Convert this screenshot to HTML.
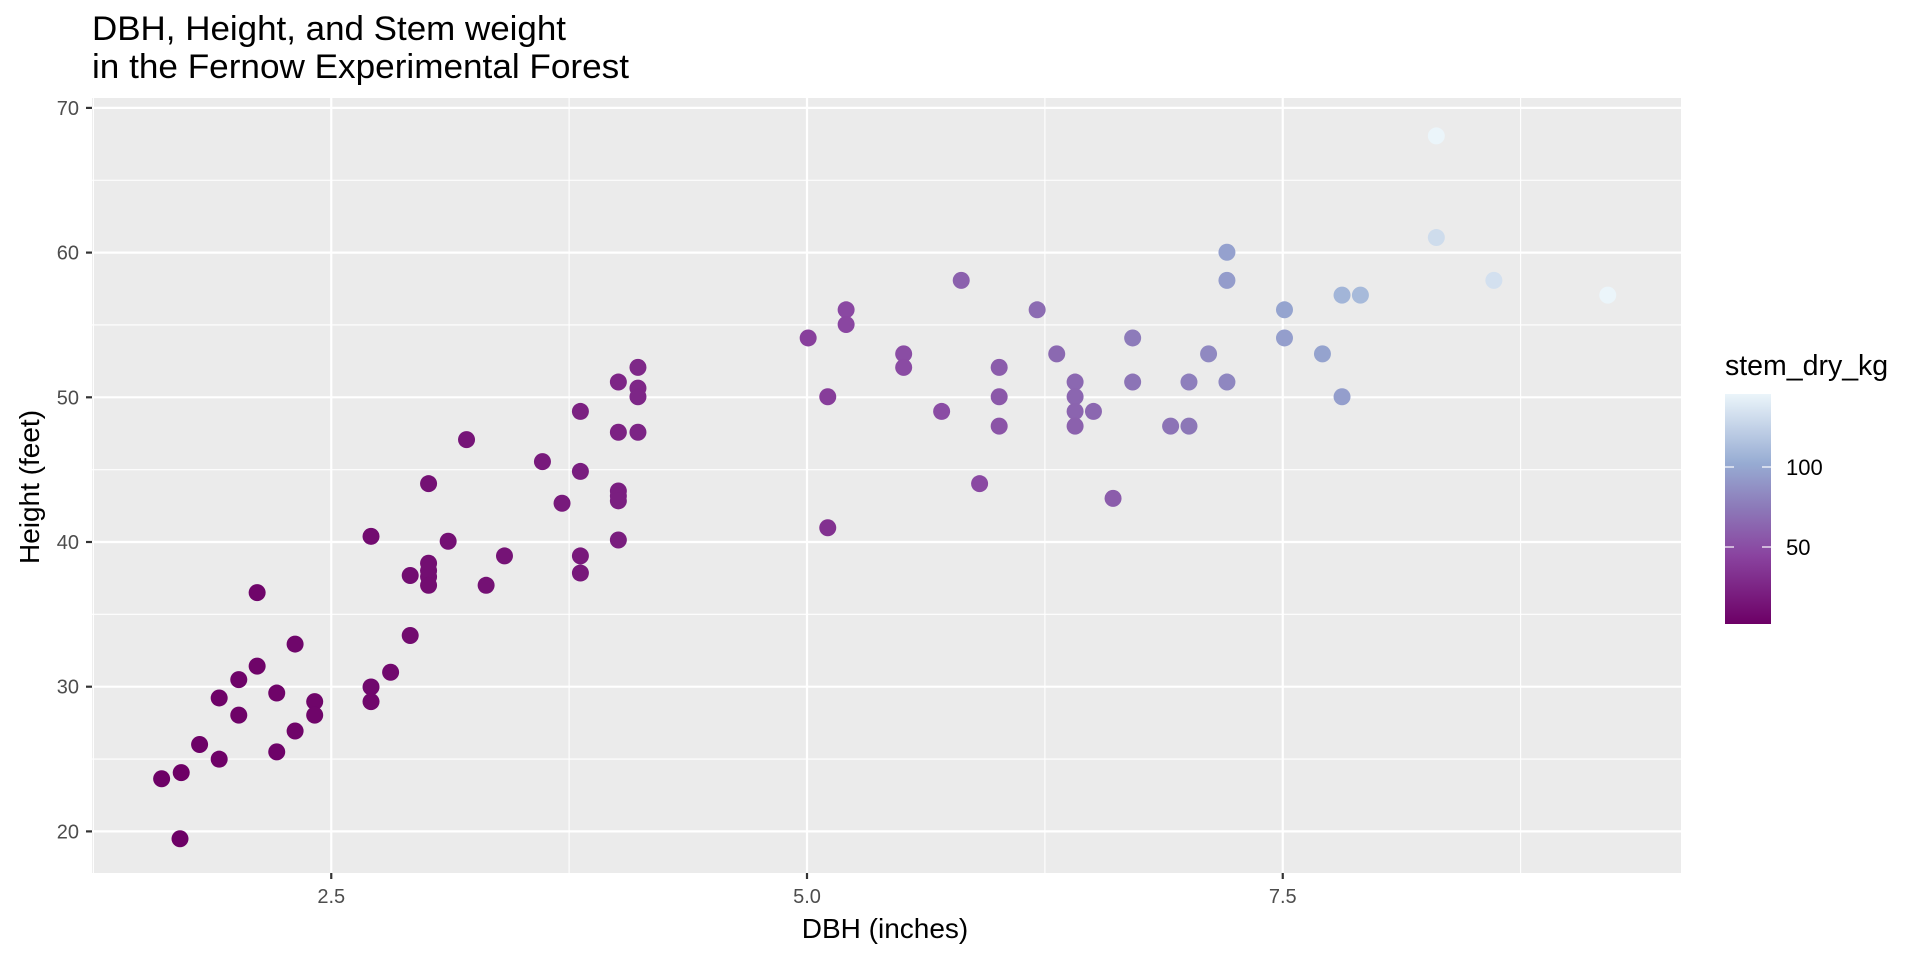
<!DOCTYPE html>
<html><head><meta charset="utf-8"><style>
body{margin:0;background:#fff}
svg{display:block;font-family:"Liberation Sans",sans-serif}
</style></head><body>
<svg id="s" width="1920" height="960" xmlns="http://www.w3.org/2000/svg">
<defs><linearGradient id="g" x1="0" y1="1" x2="0" y2="0">
<stop offset="0" stop-color="#6d0066"/><stop offset="0.3" stop-color="#8a44a0"/><stop offset="0.5" stop-color="#8c78b8"/><stop offset="0.7" stop-color="#97acd3"/><stop offset="1" stop-color="#ebf5fa"/></linearGradient></defs>
<text x="92" y="40" font-size="34" textLength="474" lengthAdjust="spacingAndGlyphs">DBH, Height, and Stem weight</text>
<text x="92" y="78" font-size="34" textLength="537" lengthAdjust="spacingAndGlyphs">in the Fernow Experimental Forest</text>
<rect x="92" y="98" width="1589" height="775" fill="#ebebeb"/>
<g id="grid"></g>
<g id="pts"></g>
<g id="ax" fill="#4d4d4d" font-size="20"></g>
<text x="885" y="938" font-size="28" text-anchor="middle">DBH (inches)</text>
<text transform="translate(39,487) rotate(-90)" font-size="28" text-anchor="middle">Height (feet)</text>
<text x="1725" y="375" font-size="28.5">stem_dry_kg</text>
<rect x="1725" y="394" width="46" height="230" fill="url(#g)"/>
<g stroke="#fff" stroke-width="1.2"><line x1="1725" x2="1734" y1="467" y2="467"/><line x1="1762" x2="1771" y1="467" y2="467"/><line x1="1725" x2="1734" y1="547" y2="547"/><line x1="1762" x2="1771" y1="547" y2="547"/></g>
<text x="1786" y="475" font-size="22">100</text>
<text x="1786" y="555" font-size="22">50</text>
</svg>
<script>
const NS="http://www.w3.org/2000/svg";
function el(p,t,a,txt){const e=document.createElementNS(NS,t);for(const k in a)e.setAttribute(k,a[k]);if(txt!==undefined)e.textContent=txt;document.getElementById(p).appendChild(e);return e;}
const X=v=>807+(v-5)*190.3, Y=v=>831.4-(v-20)*14.47;
[1.25,3.75,6.25,8.75].forEach(v=>el("grid","line",{x1:X(v),x2:X(v),y1:98,y2:873,stroke:"#fff","stroke-width":1.1}));
[25,35,45,55,65].forEach(v=>el("grid","line",{y1:Y(v),y2:Y(v),x1:92,x2:1681,stroke:"#fff","stroke-width":1.1}));
[2.5,5,7.5].forEach(v=>{el("grid","line",{x1:X(v),x2:X(v),y1:98,y2:873,stroke:"#fff","stroke-width":2.2});
 el("ax","line",{x1:X(v),x2:X(v),y1:873,y2:879,stroke:"#333","stroke-width":2.2});
 el("ax","text",{x:X(v),y:903,"text-anchor":"middle"},v.toFixed(1));});
[20,30,40,50,60,70].forEach(v=>{el("grid","line",{y1:Y(v),y2:Y(v),x1:92,x2:1681,stroke:"#fff","stroke-width":2.2});
 el("ax","line",{y1:Y(v),y2:Y(v),x1:86,x2:92,stroke:"#333","stroke-width":2.2});
 el("ax","text",{x:79,y:Y(v)+7,"text-anchor":"end"},v);});
const P=[132,636,148,631,147,685,163,608,179,620,179,570,195,555,195,584,210,544,210,484,226,566,226,614,241,526,241,597,257,573,257,584,303,438,303,561,303,573,319,549,335,470,335,519,350,395,350,460,350,466,350,471,350,478,366,442,381,359,412,454,397,478,443,377,459,411,474,336,474,385,474,454,474,468,505,312,505,353,505,401,505,405,505,409,505,441,521,300,521,317,521,324,521,353,660,276,676,324,676,431,691,253,691,265,738,289,738,300,769,336,785,229,800,395,816,300,816,324,816,348,847,253,863,289,878,312,878,324,878,336,878,348,893,336,909,407,925,276,925,312,956,348,971,312,971,348,987,289,1002,206,1002,229,1002,312,1049,253,1049,276,1080,289,1096,241,1096,324,1111,241,1173,111,1173,194,1220,229,1313,241];
const stops=[[0,[0x6d,0,0x66]],[.3,[0x8a,0x44,0xa0]],[.5,[0x8c,0x78,0xb8]],[.7,[0x97,0xac,0xd3]],[1,[0xeb,0xf5,0xfa]]];
function col(v){let t=(v-1.9)/(145.6-1.9);t=Math.max(0,Math.min(1,t));for(let i=1;i<stops.length;i++){if(t<=stops[i][0]){const a=stops[i-1],b=stops[i],f=(t-a[0])/(b[0]-a[0]);return "rgb("+a[1].map((c,j)=>Math.round(c+(b[1][j]-c)*f)).join(",")+")";}}return "#ebf5fa";}
const s=1920/1568;
for(let i=0;i<P.length;i+=2){const x=P[i]*s,y=P[i+1]*s;const dx=5+(x-807)/190.3,dy=20+(831.4-y)/14.47;
 el("pts","circle",{cx:x,cy:y,r:8.5,fill:col(0.031*dx*dx*dy)});}
</script>
</body></html>
